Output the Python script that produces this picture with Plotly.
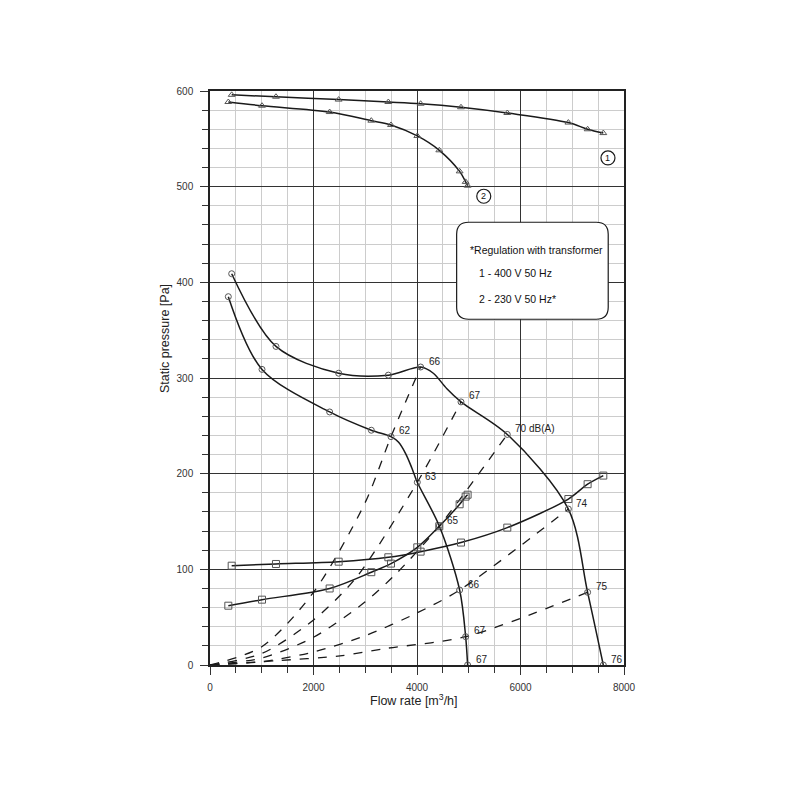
import plotly.graph_objects as go

# ---------------- data ----------------
q_400 = [419, 1275, 2486, 3446, 4070, 4850, 5745, 6925, 7297, 7600]
q_230 = [354, 1005, 2312, 3117, 3497, 4006, 4431, 4824, 4940, 4978]

p_400 = [409, 333, 305, 303, 311.5, 275, 241, 163, 76, 0]
p_230 = [385, 309, 264.5, 245.4, 238.7, 191, 145.3, 78.4, 29.6, 0]

# fan curves traced more densely (line only)
line_q_400 = [419, 1275, 2486, 3446, 4070, 4315, 4573, 4850, 5745, 6925, 7297, 7600]
line_p_400 = [409, 333, 305, 303, 311.5, 305, 289, 275, 241, 163, 76, 0]
line_q_230 = [354, 1005, 2312, 3117, 3497, 3640, 3780, 3900, 4006, 4431, 4824, 4940, 4978]
line_p_230 = [385, 309, 264.5, 245.4, 238.7, 233, 221, 206, 191, 145.3, 78.4, 29.6, 0]

tri_400 = [596, 594, 591, 588.5, 586.7, 583, 577, 567, 560, 556]
tri_230 = [588.5, 584.6, 578, 569, 564.5, 553, 538, 516, 505, 501]

sq_400 = [103.8, 105.6, 108, 112.6, 118.5, 128, 143.6, 173.5, 189, 198]
sq_230 = [62, 68.3, 80, 97, 106, 123, 145, 168, 176, 178]

lbl_400 = ["", "", "", "", "66", "67", "70 dB(A)", "74", "75", "76"]
lbl_230 = ["", "", "", "", "62", "63", "65", "66", "67", "67"]

dash_x = [
    [0, 1000, 2000, 3000, 3497, 4070],
    [0, 1000, 2000, 2834, 4006, 4850],
    [0, 1000, 2000, 3000, 3607, 4431, 5745],
    [0, 1000, 2000, 3000, 4000, 4824, 6925],
    [0, 1288, 2512, 3413, 4940, 7297],
]
dash_y = [
    [0, 19, 76, 170, 238.7, 311.5],
    [0, 12, 47, 92, 191, 275],
    [0, 7.3, 29, 66, 96, 145.3, 241],
    [0, 3.4, 13.6, 30.6, 54.4, 78.4, 163],
    [0, 4.5, 9.5, 17.4, 29.6, 76],
]

curve_tags = ["1", "2"]
tag_x = [7690, 5290]
tag_y = [530, 490]

legend_lines = ["*Regulation with transformer", "1 - 400 V 50 Hz", "2 - 230 V 50 Hz*"]

# ---------------- figure ----------------
FONT = "Liberation Sans, Arial, sans-serif"
LINE = "#1a1a1a"
MK = "#555555"

fig = go.Figure()

for xs, ys in zip(dash_x, dash_y):
    fig.add_trace(go.Scatter(x=xs, y=ys, mode="lines",
                             line=dict(color=LINE, width=1.3, dash="dash", shape="spline", smoothing=0.8),
                             hoverinfo="skip", showlegend=False))

def line_only(xs, ys):
    fig.add_trace(go.Scatter(x=xs, y=ys, mode="lines",
                             line=dict(color=LINE, width=1.5, shape="spline", smoothing=0.9),
                             hoverinfo="skip", showlegend=False))

def marks(xs, ys, symbol, size):
    fig.add_trace(go.Scatter(x=xs, y=ys, mode="markers",
                             marker=dict(symbol=symbol, size=size, color=MK, line=dict(color=MK, width=1)),
                             showlegend=False))

line_only(q_400, tri_400); marks(q_400, tri_400, "triangle-up-open", 6)
line_only(q_230, tri_230); marks(q_230, tri_230, "triangle-up-open", 6)
line_only(q_400, sq_400); marks(q_400, sq_400, "square-open", 7)
line_only(q_230, sq_230); marks(q_230, sq_230, "square-open", 7)
line_only(line_q_400, line_p_400); marks(q_400, p_400, "circle-open", 6)
line_only(line_q_230, line_p_230); marks(q_230, p_230, "circle-open", 6)

annotations = []
for xs, ys, ls in [(q_400, p_400, lbl_400), (q_230, p_230, lbl_230)]:
    for x, y, t in zip(xs, ys, ls):
        if t:
            annotations.append(dict(x=x, y=y, xref="x", yref="y", text=t, showarrow=False,
                                    xanchor="left", yanchor="middle", xshift=6, yshift=6,
                                    font=dict(family=FONT, size=10, color="#222")))

shapes = []
for t, x, y in zip(curve_tags, tag_x, tag_y):
    shapes.append(dict(type="circle", xref="x", yref="y", xsizemode="pixel", ysizemode="pixel",
                       xanchor=x, yanchor=y, x0=-7, x1=7, y0=-7, y1=7,
                       line=dict(color=LINE, width=1.2), fillcolor="white", layer="above"))
    annotations.append(dict(x=x, y=y, xref="x", yref="y", text=t, showarrow=False,
                            xanchor="center", yanchor="middle",
                            font=dict(family=FONT, size=9, color="#111")))

# rounded legend box
L, R, T, B = 4766, 7695, 462.8, 361.4
rx, ry = 232, 12.5
path = (f"M {L+rx},{T} L {R-rx},{T} Q {R},{T} {R},{T-ry} L {R},{B+ry} Q {R},{B} {R-rx},{B} "
        f"L {L+rx},{B} Q {L},{B} {L},{B+ry} L {L},{T-ry} Q {L},{T} {L+rx},{T} Z")
shapes.append(dict(type="path", xref="x", yref="y", path=path, fillcolor="white",
                   line=dict(color=LINE, width=1.2), layer="above"))

for t, x, y in zip(legend_lines, [4985, 5159, 5159], [433.8, 409.8, 382.6]):
    annotations.append(dict(x=x, y=y, xref="x", yref="y", text=t, showarrow=False,
                            xanchor="left", yanchor="middle",
                            font=dict(family=FONT, size=10.5, color="#111")))

annotations.append(dict(x=-0.1087, y=0.5697, xref="paper", yref="paper", text="Static pressure [Pa]",
                        textangle=-90, showarrow=False, xanchor="center", yanchor="middle",
                        font=dict(family=FONT, size=12.5, color="#222")))
annotations.append(dict(x=0.4928, y=-0.061, xref="paper", yref="paper", text="Flow rate [m<sup>3</sup>/h]",
                        showarrow=False, xanchor="center", yanchor="middle",
                        font=dict(family=FONT, size=12.5, color="#222")))

axis_common = dict(showline=True, linecolor="#222", linewidth=1.5, mirror=True,
                   ticks="outside", ticklen=8, tickcolor="#333", tickwidth=1,
                   showgrid=True, gridcolor="#333", gridwidth=1, zeroline=False,
                   tickfont=dict(family=FONT, size=10, color="#333"))

fig.update_layout(
    width=800, height=800, plot_bgcolor="white", paper_bgcolor="white",
    margin=dict(l=202, r=184, t=83, b=143),
    xaxis=dict(range=[0, 8000], dtick=2000, tick0=0, ticklabelstandoff=4,
               minor=dict(dtick=500, ticks="outside", ticklen=6, tickcolor="#333",
                          showgrid=True, gridcolor="#cccccc", gridwidth=1),
               **axis_common),
    yaxis=dict(range=[0, 600], dtick=100, tick0=0, ticklabelstandoff=5,
               minor=dict(dtick=20, ticks="outside", ticklen=6, tickcolor="#333",
                          showgrid=True, gridcolor="#cccccc", gridwidth=1),
               **axis_common),
    shapes=shapes, annotations=annotations, showlegend=False,
)

fig.write_html("out.html")
